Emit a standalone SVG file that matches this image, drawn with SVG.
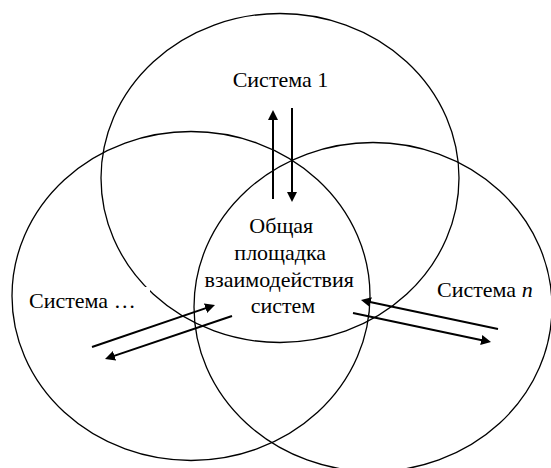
<svg xmlns="http://www.w3.org/2000/svg" width="551" height="468" viewBox="0 0 551 468">
<style>
.sys{fill:none;stroke:#000;stroke-width:1.3}
.lbl{font-family:'Liberation Serif',serif;font-size:22px;fill:#000}
.arr{stroke:#000;stroke-width:2;fill:none;marker-end:url(#ah)}
</style>
<defs>
<marker id="ah" markerUnits="userSpaceOnUse" markerWidth="10" markerHeight="10" refX="2" refY="5" orient="auto">
<path d="M0,0 L10,5 L0,10 z" fill="#000"/>
</marker>
</defs>
<rect width="551" height="468" fill="#fff"/>
<g id="system1">
<ellipse class="sys" cx="280" cy="178" rx="179" ry="164.5"/>
<text class="lbl" x="280.5" y="87" text-anchor="middle">Система 1</text>
</g>
<g id="system-etc">
<ellipse class="sys" cx="191" cy="296" rx="179" ry="164.5"/>
<rect x="25" y="287" width="125" height="30" fill="#fff"/>
<text class="lbl" x="29" y="308">Система …</text>
</g>
<g id="system-n">
<ellipse class="sys" cx="373" cy="307" rx="179" ry="164.5"/>
<text class="lbl" x="437" y="297">Система <tspan font-style="italic">n</tspan></text>
</g>
<g id="common-platform">
<text class="lbl" text-anchor="middle">
<tspan x="284" y="233">Общая</tspan>
<tspan x="283" y="260">площадка</tspan>
<tspan x="282" y="287">взаимодействия</tspan>
<tspan x="283" y="313">систем</tspan>
</text>
</g>
<g id="connectors">
<line class="arr" x1="273" y1="199" x2="273" y2="118"/>
<line class="arr" x1="292" y1="108" x2="292" y2="194"/>
<line class="arr" x1="92" y1="347" x2="207.4" y2="307.6"/>
<line class="arr" x1="232" y1="316" x2="112.6" y2="356.4"/>
<line class="arr" x1="498" y1="329" x2="368.8" y2="301.7"/>
<line class="arr" x1="353" y1="313" x2="483.2" y2="340.4"/>
</g>
</svg>
